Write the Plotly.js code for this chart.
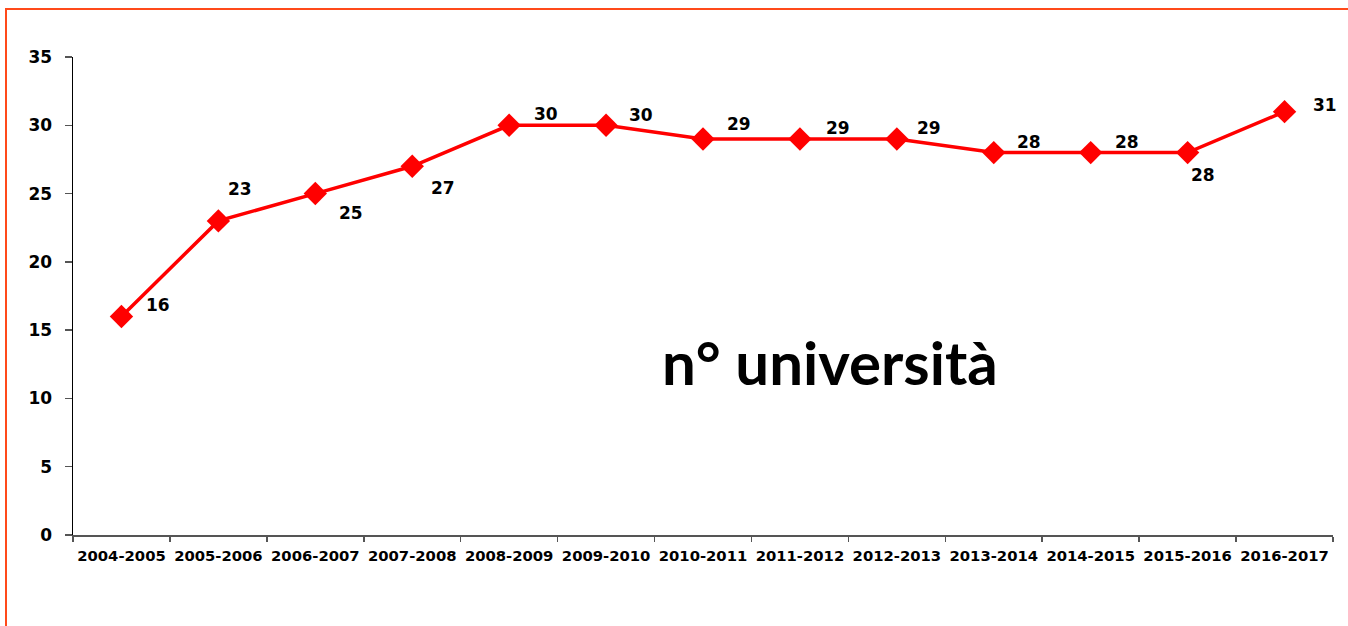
<!DOCTYPE html>
<html>
<head>
<meta charset="utf-8">
<script src="https://cdn.plot.ly/plotly-3.0.1.min.js"></script>
<style>
  html, body { margin: 0; padding: 0; background: #fff; }
  #wrap { position: relative; width: 1348px; height: 626px; overflow: hidden; }
  #chart { width: 1348px; height: 626px; }
  #frame { position: absolute; left: 5px; top: 8px; width: 1400px; height: 700px;
           border-top: 2px solid #FF4A1A; border-left: 2px solid #FF4A1A; pointer-events: none; }
</style>
</head>
<body>
<div id="wrap">
  <div id="chart"></div>
  <div id="frame"></div>
</div>
<script>
// Data
const years = ["2004-2005","2005-2006","2006-2007","2007-2008","2008-2009","2009-2010","2010-2011",
               "2011-2012","2012-2013","2013-2014","2014-2015","2015-2016","2016-2017"];
const universities = [16, 23, 25, 27, 30, 30, 29, 29, 29, 28, 28, 28, 31];
const yTicks = [0, 5, 10, 15, 20, 25, 30, 35];
const chartLabel = "n° università";

// Label offsets (pixels) relative to each marker: style only
const labelDx = [37, 22, 36, 31, 37, 35, 36, 38, 32, 35, 36, 15, 40];
const labelDy = [11, 32, -19, -22, 11, 10, 15, 11, 11, 11, 11, -22, 7];

const annotations = years.map((y, i) => ({
  x: y, y: universities[i], xref: 'x', yref: 'y',
  text: String(universities[i]), showarrow: false,
  xshift: labelDx[i], yshift: labelDy[i],
  font: { family: 'DejaVu Sans', size: 17, color: '#000', weight: 'bold' }
}));
annotations.push({
  x: 0.6007, y: 0.362, xref: 'paper', yref: 'paper', xanchor: 'center', yanchor: 'middle',
  text: chartLabel, showarrow: false,
  font: { family: 'Lato', size: 60, color: '#000', weight: 'bold' }
});

const trace = {
  x: years, y: universities, type: 'scatter', mode: 'lines+markers',
  line: { color: '#FF0000', width: 3.5 },
  marker: { symbol: 'diamond', size: 18, color: '#FF0000' },
  hoverinfo: 'x+y'
};

const layout = {
  width: 1348, height: 626,
  margin: { l: 72.5, r: 14.5, t: 57, b: 91 },
  paper_bgcolor: '#fff', plot_bgcolor: '#fff',
  showlegend: false,
  font: { family: 'DejaVu Sans', color: '#000' },
  xaxis: {
    type: 'category', range: [-0.5, 12.5], showgrid: false, zeroline: false,
    showline: true, linecolor: '#555', linewidth: 2,
    ticks: 'outside', tickson: 'boundaries', ticklen: 5, tickcolor: '#555', tickwidth: 1.5,
    tickfont: { family: 'DejaVu Sans', size: 14.8, color: '#000', weight: 'bold' },
    tickangle: 0, ticklabelstandoff: 6, fixedrange: true
  },
  yaxis: {
    range: [0, 35], tickvals: yTicks, showgrid: false, zeroline: false,
    showline: true, linecolor: '#000', linewidth: 1.5,
    ticks: 'outside', ticklen: 7, tickcolor: '#555', tickwidth: 1.5,
    tickfont: { family: 'DejaVu Sans', size: 17, color: '#000', weight: 'bold' },
    ticklabelstandoff: 9, fixedrange: true
  },
  annotations: annotations
};

Plotly.newPlot('chart', [trace], layout, { displayModeBar: false, staticPlot: true });
</script>
</body>
</html>
